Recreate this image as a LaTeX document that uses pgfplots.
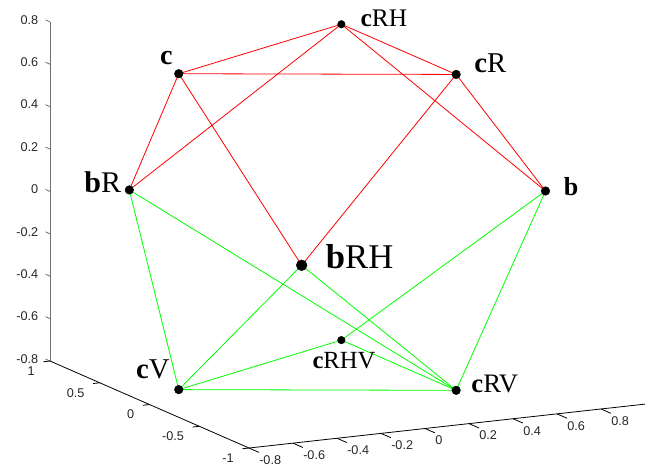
\documentclass[border=0pt]{standalone}
\usepackage{fontspec}
\setmainfont{Liberation Serif}
\newfontfamily\arialf{Liberation Sans}
\usepackage{pgfplots}
\pgfplotsset{compat=1.18}
\definecolor{redl}{RGB}{255,0,0}
\definecolor{greenl}{RGB}{0,255,0}
\definecolor{axgray}{RGB}{110,110,110}
\tikzset{
  tl/.style={font=\arialf\fontsize{9.5}{11}\selectfont, text=black!85, inner sep=0pt},
  lb/.style={inner sep=0pt, text=black},
}
\pgfplotsset{
  rl/.style={draw=redl, line width=0.6pt, mark=none, forget plot},
  gl/.style={draw=greenl, line width=0.6pt, mark=none, forget plot},
}
\begin{document}
\begin{tikzpicture}
\path[use as bounding box] (-244.125pt,161.55pt) rectangle (247.125pt,-189.45pt);
\begin{axis}[
  at={(0,0)}, anchor=origin,
  x={(165pt,18.3pt)}, y={(-74.625pt,32.625pt)}, z={(0pt,159pt)},
  xmin=-0.8, xmax=1, ymin=-1, ymax=1, zmin=-0.8, zmax=0.8,
  hide axis, clip=false,
]
% axes
\draw[axgray, line width=0.7pt] (axis cs:-0.8,1,-0.8) -- (axis cs:-0.8,1,0.8);
\draw[black, line width=0.6pt] (axis cs:-0.8,1,-0.8) -- (axis cs:-0.8,-1,-0.8) -- (axis cs:1,-1,-0.8);
\pgfplotsinvokeforeach{-0.8,-0.6,-0.4,-0.2,0,0.2,0.4,0.6,0.8}{
  \draw[axgray, line width=0.6pt] (axis cs:-0.8,1,#1) -- (axis cs:-0.8,1.045,#1);
  \node[tl, anchor=east, xshift=-8.6pt, yshift=1.5pt] at (axis cs:-0.8,1,#1) {#1};
  \draw[black, line width=0.6pt] (axis cs:#1,-1,-0.8) -- (axis cs:#1,-1.1,-0.8);
  \node[tl, anchor=west, xshift=7.5pt, yshift=-9pt] at (axis cs:#1,-1,-0.8) {#1};
}
\pgfplotsinvokeforeach{-1,-0.5,0,0.5,1}{
  \draw[black, line width=0.6pt] (axis cs:-0.8,#1,-0.8) -- (axis cs:-0.83,#1,-0.8);
  \node[tl, anchor=east, xshift=-11.25pt, yshift=-7.5pt] at (axis cs:-0.8,#1,-0.8) {#1};
}
% red edges
\addplot3[rl] coordinates {(-0.667,0,0.745) (0.333,0.577,0.745)};
\addplot3[rl] coordinates {(0.333,0.577,0.745) (0.333,-0.577,0.745)};
\addplot3[rl] coordinates {(-0.667,0,0.745) (0.333,-0.577,0.745)};
\addplot3[rl] coordinates {(-0.667,0,0.745) (-0.5,0.866,0)};
\addplot3[rl] coordinates {(-0.667,0,0.745) (-0.5,-0.866,0)};
\addplot3[rl] coordinates {(0.333,0.577,0.745) (-0.5,0.866,0)};
\addplot3[rl] coordinates {(0.333,0.577,0.745) (1,0,0)};
\addplot3[rl] coordinates {(0.333,-0.577,0.745) (1,0,0)};
\addplot3[rl] coordinates {(0.333,-0.577,0.745) (-0.5,-0.866,0)};
% green edges
\addplot3[gl] coordinates {(-0.5,0.866,0) (-0.667,0,-0.745)};
\addplot3[gl] coordinates {(-0.5,0.866,0) (0.333,-0.577,-0.745)};
\addplot3[gl] coordinates {(-0.5,-0.866,0) (-0.667,0,-0.745)};
\addplot3[gl] coordinates {(-0.5,-0.866,0) (0.333,-0.577,-0.745)};
\addplot3[gl] coordinates {(1,0,0) (0.333,0.577,-0.745)};
\addplot3[gl] coordinates {(1,0,0) (0.333,-0.577,-0.745)};
\addplot3[gl] coordinates {(-0.667,0,-0.745) (0.333,0.577,-0.745)};
\addplot3[gl] coordinates {(-0.667,0,-0.745) (0.333,-0.577,-0.745)};
\addplot3[gl] coordinates {(0.333,0.577,-0.745) (0.333,-0.577,-0.745)};
% vertices
\addplot3[only marks, mark=*, mark size=3.2pt, black, forget plot] coordinates {
 (1,0,0) (-0.5,0.866,0) (-0.667,0,0.745) (0.333,-0.577,0.745)
 (-0.667,0,-0.745) (0.333,-0.577,-0.745)};
\addplot3[only marks, mark=*, mark size=4pt, black, forget plot] coordinates {(-0.5,-0.866,0)};
\addplot3[only marks, mark=*, mark size=2.8pt, black, forget plot] coordinates {(0.333,0.577,0.745) (0.333,0.577,-0.745)};
% labels
\node[lb, anchor=east, xshift=-4.5pt, yshift=12pt, font=\fontsize{21}{24}\selectfont] at (axis cs:-0.667,0,0.745) {\textbf{c}};
\node[lb, anchor=west, xshift=14.25pt, yshift=4.5pt, font=\fontsize{19}{22}\selectfont] at (axis cs:0.333,0.577,0.745) {\textbf{c}RH};
\node[lb, anchor=west, xshift=13.5pt, yshift=8.25pt, font=\fontsize{21.5}{24}\selectfont] at (axis cs:0.333,-0.577,0.745) {\textbf{c}R};
\node[lb, anchor=east, xshift=-6pt, yshift=6pt, font=\fontsize{22.5}{26}\selectfont] at (axis cs:-0.5,0.866,0) {\textbf{b}R};
\node[lb, anchor=west, xshift=13.5pt, yshift=3pt, font=\fontsize{19.5}{22}\selectfont] at (axis cs:1,0,0) {\textbf{b}};
\node[lb, anchor=west, xshift=18pt, yshift=6.75pt, font=\fontsize{26}{30}\selectfont] at (axis cs:-0.5,-0.866,0) {\textbf{b}RH};
\node[lb, anchor=north, xshift=2pt, yshift=-9pt, font=\fontsize{18.5}{22}\selectfont] at (axis cs:0.333,0.577,-0.745) {\textbf{c}RHV};
\node[lb, anchor=east, xshift=-6.75pt, yshift=15.4pt, font=\fontsize{21.5}{25}\selectfont] at (axis cs:-0.667,0,-0.745) {\textbf{c}V};
\node[lb, anchor=west, xshift=11.25pt, yshift=4.5pt, font=\fontsize{20}{23}\selectfont] at (axis cs:0.333,-0.577,-0.745) {\textbf{c}RV};
\end{axis}
\end{tikzpicture}
\end{document}
